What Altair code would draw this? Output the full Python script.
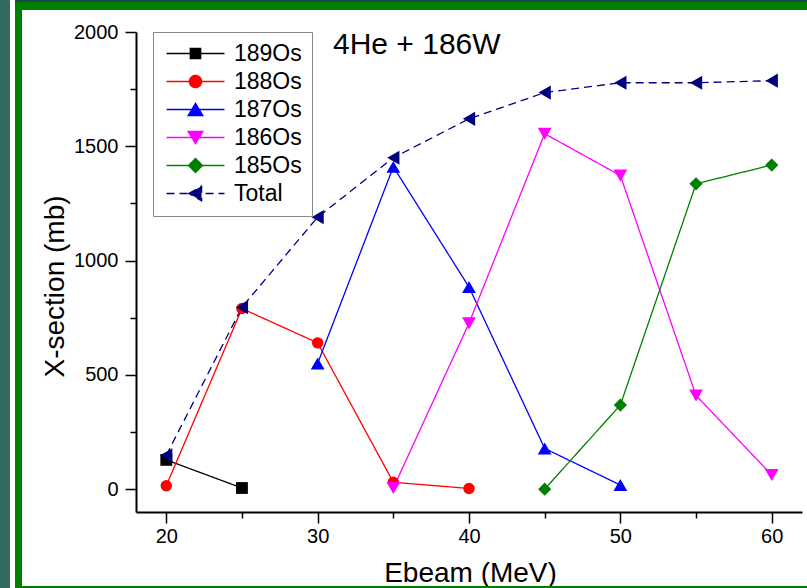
import altair as alt
import pandas as pd

# ---------------- data ----------------
series_names = ["189Os", "188Os", "187Os", "186Os", "185Os", "Total"]

ebeam_189 = [20, 25]
xs_189 = [128, 5]
ebeam_188 = [20, 25, 30, 35, 40]
xs_188 = [15, 790, 640, 30, 3]
ebeam_187 = [30, 35, 40, 45, 50]
xs_187 = [550, 1410, 884, 178, 18]
ebeam_186 = [35, 40, 45, 50, 55, 60]
xs_186 = [5, 726, 1555, 1372, 410, 62]
ebeam_185 = [45, 50, 55, 60]
xs_185 = [0, 368, 1336, 1418]
ebeam_total = [20, 25, 30, 35, 40, 45, 50, 55, 60]
xs_total = [148, 796, 1190, 1450, 1620, 1735, 1778, 1778, 1787]

x_ticks = [20, 25, 30, 35, 40, 45, 50, 55, 60]
y_ticks = [0, 250, 500, 750, 1000, 1250, 1500, 1750, 2000]

# ---------------- styles ----------------
colors = ["#000000", "#ff0000", "#0000ff", "#ff00ff", "#008000", "#000080"]
marker_shapes = ["square", "circle", "triangle-up", "triangle-down", "diamond", "triangle-left"]
marker_sizes = [140, 130, 190, 190, 175, 200]
dashes = [[1, 0], [1, 0], [1, 0], [1, 0], [1, 0], [8, 5]]

LINE = "M-4.83,0L4.83,0"
legend_paths = [
    LINE + "M-0.85,-0.85L0.85,-0.85L0.85,0.85L-0.85,0.85Z",
    LINE + "M-1,0A1,1 0 1,0 1,0A1,1 0 1,0 -1,0Z",
    LINE + "M0,-1L1.2,1L-1.2,1Z",
    LINE + "M0,1L1.2,-1L-1.2,-1Z",
    LINE + "M0,-1.15L1.15,0L0,1.15L-1.15,0Z",
    LINE + "M-1.1,0L1,-1.2L1,1.2Z",
]

FONT = "Liberation Sans"

rows = []
for name, xs, ys in [
    ("189Os", ebeam_189, xs_189),
    ("188Os", ebeam_188, xs_188),
    ("187Os", ebeam_187, xs_187),
    ("186Os", ebeam_186, xs_186),
    ("185Os", ebeam_185, xs_185),
    ("Total", ebeam_total, xs_total),
]:
    for e, v in zip(xs, ys):
        rows.append({"series": name, "ebeam": e, "xs": v})
df = pd.DataFrame(rows)

leg = alt.Legend(
    title=None, orient="none", legendX=17, legendY=0,
    symbolSize=144, symbolStrokeWidth=1.5, symbolOffset=21, labelOffset=27,
    labelFont=FONT, labelFontSize=23, labelColor="black",
    padding=10, rowPadding=4, strokeColor="#888888", fillColor="white",
    labelLimit=0,
)

x_enc = alt.X("ebeam:Q", scale=alt.Scale(domain=[18, 62], nice=False, zero=False),
              axis=alt.Axis(values=x_ticks, title="Ebeam (MeV)", format="d",
                            labelExpr="datum.value % 10 === 0 ? datum.label : ''",
                            tickSize={"expr": "datum.value % 10 === 0 ? 11 : 6"},
                            labelPadding=3,
                            titleX=334, titleY=69, titleBaseline="alphabetic",
                            titleAlign="center"))
y_enc = alt.Y("xs:Q", scale=alt.Scale(domain=[-100, 2000], nice=False, zero=False),
              axis=alt.Axis(values=y_ticks, title="X-section (mb)", format="d",
                            labelExpr="datum.value % 500 === 0 ? datum.label : ''",
                            tickSize={"expr": "datum.value % 500 === 0 ? 11 : 6"},
                            labelPadding=7,
                            titleX=-81, titleY=254, titleAngle=270,
                            titleAlign="center", titleBaseline="middle"))

color_scale = alt.Scale(domain=series_names, range=colors)
color_enc = alt.Color("series:N", scale=color_scale, legend=leg)

base = alt.Chart(df)

# empty layer that only carries the legend symbols (line + marker)
legend_layer = base.mark_point(filled=False, size=144, strokeWidth=1.5, opacity=1).encode(
    x=x_enc, y=y_enc,
    color=color_enc,
    fill=alt.Fill("series:N", scale=alt.Scale(domain=series_names, range=colors), legend=leg),
    shape=alt.Shape("series:N", scale=alt.Scale(domain=series_names, range=legend_paths), legend=leg),
    strokeDash=alt.StrokeDash("series:N", scale=alt.Scale(domain=series_names, range=dashes), legend=leg),
).transform_filter("false")

lines = base.mark_line(strokeWidth=1.3).encode(
    x=x_enc, y=y_enc, color=color_enc,
    strokeDash=alt.StrokeDash("series:N", scale=alt.Scale(domain=series_names, range=dashes), legend=leg),
    detail="series:N",
)

point_layers = []
for name, shp, sz in zip(series_names, marker_shapes, marker_sizes):
    point_layers.append(
        base.mark_point(filled=True, shape=shp, size=sz, opacity=1).encode(
            x=x_enc, y=y_enc, color=color_enc
        ).transform_filter(alt.datum.series == name)
    )

# decorative frame of the original figure
frame_df = pd.DataFrame({"k": [0]})


def deco(x1, x2, y1, y2, col):
    return alt.Chart(frame_df).mark_rect(color=col).encode(
        x=alt.value(x1), x2=alt.value(x2), y=alt.value(y1), y2=alt.value(y2)
    )


frame = [
    deco(-136, -126, -32, 556, "#356a63"),
    deco(-121, 671, -32, -30, "#1d4750"),
    deco(-121, -114, -30, 556, "#008000"),
    deco(-121, 671, -30, -22, "#008000"),
    deco(-121, 671, 554, 556, "#008000"),
]

chart = alt.layer(*frame, legend_layer, lines, *point_layers).properties(
    width=666, height=480,
    autosize=alt.AutoSizeParams(type="none"),
    padding={"left": 136, "top": 32, "right": 5, "bottom": 76},
    background="white",
    title=alt.TitleParams(text="4He + 186W", anchor="start", frame="group",
                          dx=197, dy=84, offset=0, baseline="alphabetic",
                          fontSize=30, font=FONT, fontWeight="normal", color="black"),
).configure_view(strokeWidth=0).configure_axis(
    grid=False, domainColor="black", domainWidth=2, tickColor="black", tickWidth=1.5,
    labelFont=FONT, labelFontSize=20, labelColor="black",
    titleFont=FONT, titleFontSize=28, titleFontWeight="normal", titleColor="black",
)

chart.save("out.html", embed_options={"renderer": "svg", "actions": False})
